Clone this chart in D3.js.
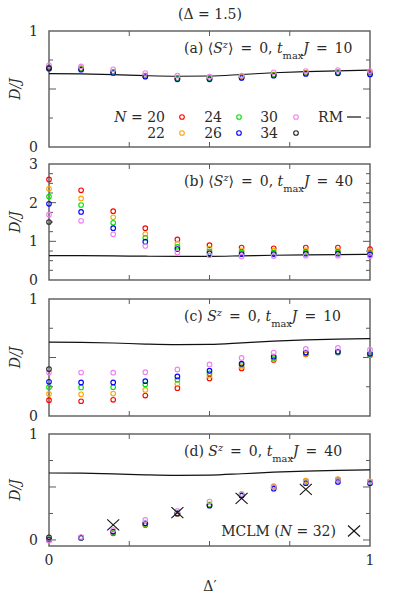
<!DOCTYPE html>
<html><head><meta charset="utf-8">
<script src="https://cdn.jsdelivr.net/npm/d3@7"></script>
<style>
body{margin:0;background:#fff;}
</style></head>
<body><svg id="chart" width="399" height="597"></svg>
<script>
// ---------- data ----------
const deltaP = [0,0.1,0.2,0.3,0.4,0.5,0.6,0.7,0.8,0.9,1.0];
const sizes = [20,22,24,26,30,34];
const colors = ["#ff0000","#ffa500","#00e000","#0000ff","#ee82ee","#222222"];
const rmLine = [0.632,0.630,0.624,0.615,0.610,0.612,0.625,0.640,0.650,0.657,0.662];

// panel (a) <Sz>=0, tmax J = 10
const a20 = [0.685,0.677,0.648,0.616,0.593,0.593,0.605,0.625,0.640,0.645,0.636];
const a22 = [0.683,0.675,0.646,0.614,0.591,0.591,0.603,0.623,0.638,0.643,0.634];
const a24 = [0.680,0.672,0.643,0.611,0.588,0.588,0.600,0.620,0.635,0.640,0.631];
const a26 = [0.675,0.667,0.638,0.606,0.583,0.583,0.595,0.615,0.630,0.635,0.626];
const a30 = [0.704,0.695,0.670,0.638,0.615,0.606,0.615,0.644,0.655,0.664,0.655];
const a34 = [0.680];
// panel (b) <Sz>=0, tmax J = 40
const b20 = [2.60,2.32,1.78,1.34,1.05,0.90,0.84,0.82,0.84,0.84,0.80];
const b22 = [2.36,2.11,1.62,1.19,0.94,0.81,0.77,0.76,0.77,0.77,0.74];
const b24 = [2.16,1.94,1.48,1.09,0.86,0.74,0.72,0.71,0.72,0.72,0.69];
const b26 = [1.97,1.76,1.34,0.99,0.80,0.69,0.67,0.67,0.68,0.68,0.66];
const b30 = [1.69,1.53,1.18,0.88,0.71,0.64,0.61,0.62,0.63,0.63,0.62];
const b34 = [1.50];
// panel (c) Sz=0, tmax J = 10
const c20 = [0.135,0.126,0.138,0.175,0.238,0.321,0.407,0.479,0.527,0.542,0.519];
const c22 = [0.189,0.186,0.192,0.223,0.275,0.344,0.421,0.487,0.530,0.545,0.522];
const c24 = [0.246,0.244,0.246,0.269,0.309,0.364,0.436,0.496,0.536,0.546,0.528];
const c26 = [0.292,0.287,0.287,0.298,0.338,0.387,0.447,0.507,0.542,0.550,0.533];
const c30 = [0.372,0.372,0.370,0.375,0.398,0.441,0.496,0.542,0.573,0.582,0.567];
const c34 = [0.401];
// panel (d) Sz=0, tmax J = 40
const d20 = [0.000,0.020,0.063,0.142,0.245,0.330,0.425,0.500,0.555,0.570,0.550];
const d22 = [0.000,0.022,0.070,0.148,0.248,0.335,0.430,0.509,0.560,0.575,0.552];
const d24 = [0.005,0.022,0.074,0.152,0.250,0.330,0.424,0.495,0.545,0.560,0.542];
const d26 = [0.000,0.022,0.079,0.157,0.250,0.324,0.418,0.484,0.535,0.547,0.535];
const d30 = [-0.006,0.028,0.094,0.189,0.274,0.362,0.434,0.497,0.550,0.565,0.550];
const d34 = [0.025];
const mclmX = [0.2,0.4,0.6,0.8];
const mclmY = [0.142,0.258,0.393,0.478];

const yTicksA = [0,1];
const yTicksB = [0,1,2,3];
const xTickLabels = [0,1];

// ---------- layout ----------
const svg = d3.select("#chart");
const FF = "'DejaVu Serif'";
const FONT = 14;
const ink = "#2a2a2a";
const frame = "#5a5a5a";
const EQ = "\u2002=\u2002";
const x = d3.scaleLinear().domain([0,1]).range([49,370]);

const panels = [
  {series:[a20,a22,a24,a26,a30,a34], top:31, bottom:147, dom:[0,1], labels:yTicksA, minor:0.25,
   tag:[{t:"(a) ⟨"},{t:"S",i:1},{t:"z",i:1,s:"sup"},{t:"⟩"+EQ+"0, "},{t:"t",i:1},{t:"max",s:"sub"},{t:"J",i:1},{t:EQ+"10"}]},
  {series:[b20,b22,b24,b26,b30,b34], top:164, bottom:280, dom:[0,3], labels:yTicksB, minor:0.25,
   tag:[{t:"(b) ⟨"},{t:"S",i:1},{t:"z",i:1,s:"sup"},{t:"⟩"+EQ+"0, "},{t:"t",i:1},{t:"max",s:"sub"},{t:"J",i:1},{t:EQ+"40"}]},
  {series:[c20,c22,c24,c26,c30,c34], top:299, bottom:416, dom:[0,1], labels:yTicksA, minor:0.25,
   tag:[{t:"(c) "},{t:"S",i:1},{t:"z",i:1,s:"sup"},{t:EQ+"0, "},{t:"t",i:1},{t:"max",s:"sub"},{t:"J",i:1},{t:EQ+"10"}]},
  {series:[d20,d22,d24,d26,d30,d34], top:434, bottom:546, dom:[-0.057,1], labels:yTicksA, minor:0.25,
   tag:[{t:"(d) "},{t:"S",i:1},{t:"z",i:1,s:"sup"},{t:EQ+"0, "},{t:"t",i:1},{t:"max",s:"sub"},{t:"J",i:1},{t:EQ+"40"}]}
];

function txt(g){ return g.append("text").style("font-family",FF).attr("fill",ink); }

function rich(g, px, py, segs, size, anchor){
  const t = txt(g).attr("x",px).attr("y",py).attr("font-size",size).attr("text-anchor",anchor||"start");
  segs.forEach(s=>{
    const ts = t.append("tspan").text(s.t);
    if (s.i) ts.attr("font-style","italic");
    if (s.s==="sup") ts.attr("baseline-shift","super").attr("font-size",size*0.7);
    if (s.s==="sub") ts.attr("baseline-shift","sub").attr("font-size",size*0.7);
  });
  return t;
}

rich(svg, 210, 19, [{t:"(Δ = 1.5)"}], FONT, "middle");

panels.forEach((p, pi)=>{
  const y = d3.scaleLinear().domain(p.dom).range([p.bottom, p.top]);
  const g = svg.append("g");
  const x0 = x.range()[0], x1 = x.range()[1];

  const yt = d3.range(Math.ceil(p.dom[0]/p.minor)*p.minor, p.dom[1]+1e-9, p.minor)
    .filter(v=>v>p.dom[0]+1e-9 && v<p.dom[1]-1e-9);
  const tk = g.append("g").attr("stroke",frame).attr("stroke-width",1);
  yt.forEach(v=>{
    const major = (p.dom[1]>1.5) ? Math.abs(v-Math.round(v))<1e-9 : Math.abs(v*2-Math.round(v*2))<1e-9;
    const len = major ? 7 : 4;
    tk.append("line").attr("x1",x0).attr("x2",x0+len).attr("y1",y(v)).attr("y2",y(v));
    tk.append("line").attr("x1",x1).attr("x2",x1-len).attr("y1",y(v)).attr("y2",y(v));
  });
  [0.25,0.5,0.75].forEach(v=>{
    tk.append("line").attr("x1",x(v)).attr("x2",x(v)).attr("y1",p.bottom).attr("y2",p.bottom-5);
    tk.append("line").attr("x1",x(v)).attr("x2",x(v)).attr("y1",p.top).attr("y2",p.top+5);
  });

  g.append("rect").attr("x",x0).attr("y",p.top).attr("width",x1-x0).attr("height",p.bottom-p.top)
    .attr("fill","none").attr("stroke",frame).attr("stroke-width",1.4);

  p.labels.forEach(v=>{
    txt(g).attr("x",38).attr("y",y(v)+5).attr("text-anchor","end").attr("font-size",FONT).text(v);
  });

  const mid = (p.top+p.bottom)/2;
  txt(g).attr("transform",`translate(20,${mid}) rotate(-90)`).attr("text-anchor","middle")
    .attr("font-size",FONT).attr("font-style","italic").text("D/J");

  const line = d3.line().x((d,i)=>x(deltaP[i])).y(d=>y(d)).curve(d3.curveMonotoneX);
  g.append("path").datum(rmLine).attr("d",line).attr("fill","none").attr("stroke","#111").attr("stroke-width",1.2);

  p.series.forEach((s, si)=>{
    g.append("g").selectAll("circle").data(s).join("circle")
      .attr("cx",(d,i)=>x(deltaP[i])).attr("cy",d=>y(d)).attr("r",2.3)
      .attr("fill","none").attr("stroke",colors[si]).attr("stroke-width",1.1);
  });

  rich(g, 184, p.top+22, p.tag, FONT, "start");

  if (pi===3){
    const cg = g.append("g").attr("stroke","#111").attr("stroke-width",1.1);
    const cross = (cx,cy)=>{
      cg.append("line").attr("x1",cx-6).attr("x2",cx+6).attr("y1",cy-5.5).attr("y2",cy+5.5);
      cg.append("line").attr("x1",cx-6).attr("x2",cx+6).attr("y1",cy+5.5).attr("y2",cy-5.5);
    };
    mclmX.forEach((v,i)=>cross(x(v), y(mclmY[i])));
    rich(g, 336, 536, [{t:"MCLM ("},{t:"N",i:1},{t:" = 32)"}], FONT, "end");
    cross(354, 531);
    xTickLabels.forEach(v=>{
      txt(g).attr("x",x(v)).attr("y",565).attr("text-anchor","middle").attr("font-size",FONT).text(v);
    });
    txt(g).attr("x",210).attr("y",591).attr("text-anchor","middle").attr("font-size",FONT).text("Δ′");
  }

  if (pi===0){
    const lg = g.append("g");
    const rows = [[0,2,4],[1,3,5]];
    const colTextX = [165,222,278];
    const colMarkX = [182,239,296];
    const rowY = [122,138];
    rows.forEach((row,ri)=>{
      row.forEach((si,ci)=>{
        const label = (ri===0 && ci===0) ? [{t:"N",i:1},{t:" = "+sizes[si]}] : [{t:String(sizes[si])}];
        rich(lg, colTextX[ci], rowY[ri], label, FONT, "end");
        lg.append("circle").attr("cx",colMarkX[ci]).attr("cy",rowY[ri]-5).attr("r",2.3)
          .attr("fill","none").attr("stroke",colors[si]).attr("stroke-width",1.1);
      });
    });
    rich(lg, 343, 122, [{t:"RM"}], FONT, "end");
    lg.append("line").attr("x1",347).attr("x2",361).attr("y1",117).attr("y2",117)
      .attr("stroke","#111").attr("stroke-width",1.2);
  }
});
</script></body></html>
